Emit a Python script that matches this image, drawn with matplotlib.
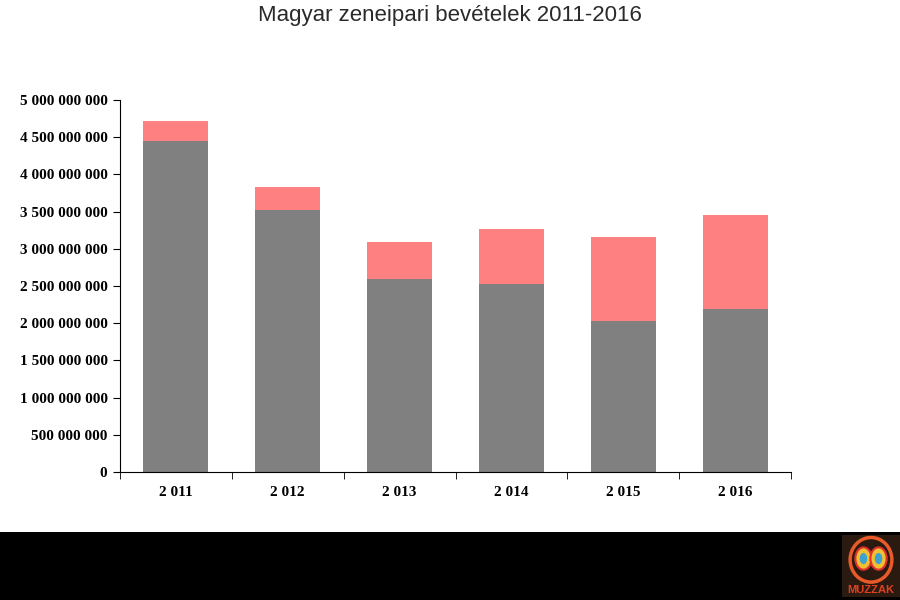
import matplotlib
matplotlib.use("Agg")
import matplotlib.pyplot as plt
from matplotlib.patches import Rectangle, Circle, Ellipse
from matplotlib.ticker import FuncFormatter

years = ["2 011", "2 012", "2 013", "2 014", "2 015", "2 016"]
gray_vals = [4.45e9, 3.52e9, 2.59e9, 2.53e9, 2.03e9, 2.19e9]
pink_vals = [0.27e9, 0.31e9, 0.50e9, 0.74e9, 1.13e9, 1.26e9]
yticks = [0, 5e8, 1e9, 1.5e9, 2e9, 2.5e9, 3e9, 3.5e9, 4e9, 4.5e9, 5e9]

fig = plt.figure(figsize=(9, 6), dpi=100)

# black band at bottom
bax = fig.add_axes([0, 0, 1, 68/600])
bax.axis("off")
bax.add_patch(Rectangle((0, 0), 1, 1, transform=bax.transAxes, facecolor="black", edgecolor="none"))

ax = fig.add_axes([120/900, 1-472/600, 671/900, 372/600])

x = list(range(len(years)))
ax.bar(x, gray_vals, width=0.58, color="#808080", zorder=2)
ax.bar(x, pink_vals, bottom=gray_vals, width=0.58, color="#FF8080", zorder=2)

ax.set_xlim(-0.5, len(years) - 0.5)
ax.set_ylim(0, 5e9)
ax.set_yticks(yticks)
def fmt(v, pos):
    return f"{int(round(v)):,}".replace(",", " ")
ax.yaxis.set_major_formatter(FuncFormatter(fmt))
ax.set_xticks(x)
ax.set_xticklabels(years)
ax.set_xticks([i - 0.5 for i in range(len(years) + 1)], minor=True)
ax.tick_params(axis="x", which="major", length=0, pad=10)
ax.tick_params(axis="x", which="minor", length=5, direction="out")
ax.tick_params(axis="y", length=5, direction="out", pad=4)
for lab in ax.get_xticklabels() + ax.get_yticklabels():
    lab.set_fontfamily("Liberation Serif")
    lab.set_fontweight("bold")
    lab.set_fontsize(11)
for s in ["top", "right"]:
    ax.spines[s].set_visible(False)

fig.text(0.5, 1-16/600, "Magyar zeneipari bevételek 2011-2016", ha="center", va="center",
         fontsize=16, color="#2a2a2a", family="Liberation Sans")

# logo approximation
lax = fig.add_axes([842/900, 3/600, 58/900, 62/600])
lax.set_xlim(0, 1); lax.set_ylim(0, 1)
lax.axis("off")
lax.add_patch(Rectangle((0, 0), 1, 1, facecolor="#2a1a10"))
lax.add_patch(Circle((0.5, 0.6), 0.36, facecolor="none", edgecolor="#e85a2a", lw=2.5))
lax.add_patch(Ellipse((0.37, 0.62), 0.28, 0.36, facecolor="#f0c030", edgecolor="#e03030", lw=1.5))
lax.add_patch(Ellipse((0.63, 0.62), 0.28, 0.36, facecolor="#f0c030", edgecolor="#e03030", lw=1.5))
lax.add_patch(Ellipse((0.37, 0.62), 0.13, 0.18, facecolor="#40a0d0", edgecolor="none"))
lax.add_patch(Ellipse((0.63, 0.62), 0.13, 0.18, facecolor="#40a0d0", edgecolor="none"))
lax.text(0.5, 0.12, "MUZZAK", ha="center", va="center", color="#e04020",
         fontsize=8, fontweight="bold", family="Liberation Sans")

fig.savefig("out.png", dpi=100, facecolor="white")
